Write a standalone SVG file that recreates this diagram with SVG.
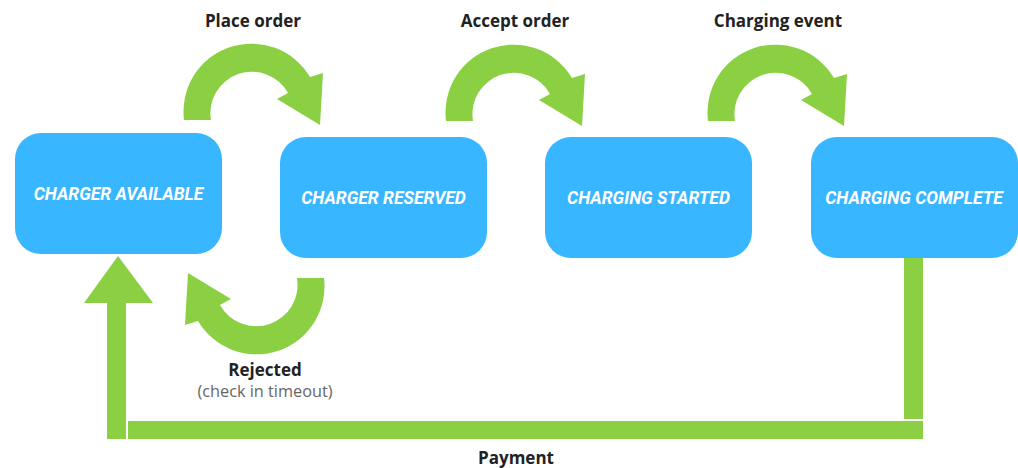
<svg xmlns="http://www.w3.org/2000/svg" xmlns:xlink="http://www.w3.org/1999/xlink" width="1018" height="468" viewBox="0 0 1018 468">
<style>
.box{fill:#38B6FF;}
.boxtxt{font-family:Roboto,"Liberation Sans",sans-serif;font-weight:700;font-style:italic;font-size:17.5px;fill:#FFFFFF;text-anchor:middle;}
.lbl{font-family:"Open Sans","Liberation Sans",sans-serif;font-weight:700;font-size:17px;fill:#222222;text-anchor:middle;}
.sub{font-family:"Open Sans","Liberation Sans",sans-serif;font-weight:400;font-size:16.3px;fill:#666666;text-anchor:middle;}
.arr{fill:#8BD043;}
</style>
<defs>
<path id="curl" d="M184,120 A68,68 0 0 1 310,77 L323,73 L320,125 L277,99 L288,93 A41.4,41.4 0 0 0 211,120 Z"/>
</defs>
<rect width="1018" height="468" fill="#FFFFFF"/>
<g id="connectors" class="arr">
<use xlink:href="#curl" href="#curl"/>
<use xlink:href="#curl" href="#curl" transform="translate(262,1)"/>
<use xlink:href="#curl" href="#curl" transform="translate(524,1)"/>
<use xlink:href="#curl" href="#curl" transform="rotate(180 254 199)"/>
<rect x="904" y="258" width="19" height="161"/>
<rect x="128" y="421" width="795" height="18"/>
<rect x="107" y="302" width="19" height="137"/>
<polygon points="84,303 153,303 118,256"/>
</g>
<g id="label-place-order"><text class="lbl" x="253" y="27">Place order</text></g>
<g id="label-accept-order"><text class="lbl" x="515" y="27">Accept order</text></g>
<g id="label-charging-event"><text class="lbl" x="778" y="27">Charging event</text></g>
<g id="label-rejected"><text class="lbl" x="265" y="376">Rejected</text><text class="sub" x="265" y="397">(check in timeout)</text></g>
<g id="label-payment"><text class="lbl" x="516" y="464">Payment</text></g>
<g id="node-charger-available">
<rect class="box" x="15" y="133" width="207" height="121" rx="26"/>
<text class="boxtxt" x="118.5" y="200">CHARGER AVAILABLE</text>
</g>
<g id="node-charger-reserved">
<rect class="box" x="280" y="137" width="207" height="121" rx="26"/>
<text class="boxtxt" x="383.5" y="204">CHARGER RESERVED</text>
</g>
<g id="node-charging-started">
<rect class="box" x="545" y="137" width="207" height="121" rx="26"/>
<text class="boxtxt" x="648.5" y="204">CHARGING STARTED</text>
</g>
<g id="node-charging-complete">
<rect class="box" x="811" y="137" width="207" height="121" rx="26"/>
<text class="boxtxt" x="914" y="204">CHARGING COMPLETE</text>
</g>
</svg>
